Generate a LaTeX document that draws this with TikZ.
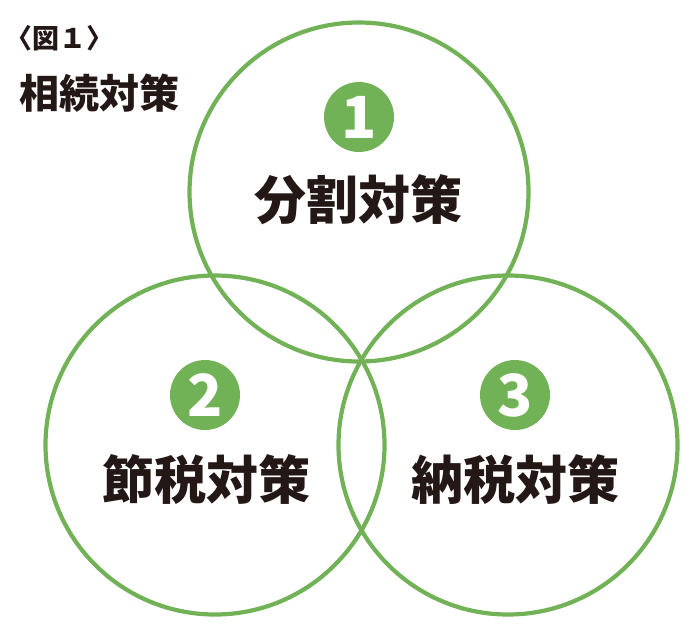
\documentclass[tikz,border=0pt]{standalone}
\usepackage{fontspec}
\newfontfamily\cjk{Noto Sans CJK JP}
\definecolor{vgreen}{HTML}{72B257}
\definecolor{tblack}{HTML}{231815}
\begin{document}
\begin{tikzpicture}[x=1pt,y=-1pt,
  ring/.style={circle,draw=vgreen,line width=4.2pt,minimum size=339pt,inner sep=0pt},
  badge/.style={circle,fill=vgreen,minimum size=70pt,inner sep=0pt,text=white,font=\cjk\bfseries\fontsize{58}{58}\selectfont},
  label/.style={text=tblack,inner sep=0pt,font=\cjk\bfseries\fontsize{52}{52}\selectfont},
  title/.style={text=tblack,inner sep=0pt,anchor=west}]
\useasboundingbox (0,0) rectangle (700,640);
\node[ring] (top) at (359,192) {};
\node[ring] (left) at (215,445) {};
\node[ring] (right) at (508,445) {};
\node[badge] (b1) at (359,117) {1};
\node[badge] (b2) at (205,395) {2};
\node[badge] (b3) at (515,395) {3};
\node[label] (t1) at (358,200) {分割対策};
\node[label] (t2) at (206,480) {節税対策};
\node[label] (t3) at (515,480) {納税対策};
\node[title,font=\cjk\bfseries\fontsize{27}{27}\selectfont] (fig) at (5,38) {〈図１〉};
\node[title,font=\cjk\bfseries\fontsize{40}{40}\selectfont] (head) at (19,93) {相続対策};
\end{tikzpicture}
\end{document}
